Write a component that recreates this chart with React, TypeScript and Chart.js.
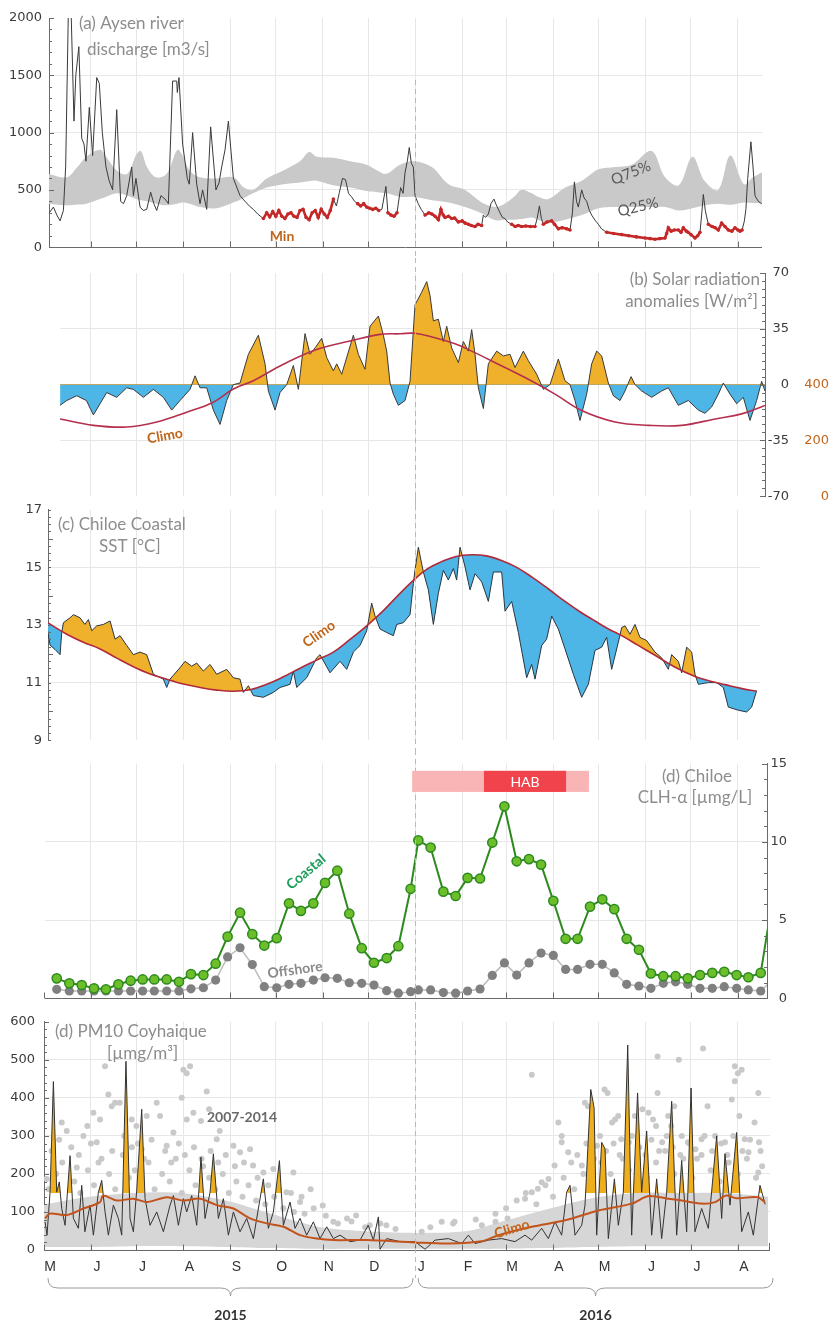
import { useEffect, useRef } from "react";
import { Chart, registerables } from "chart.js";

Chart.register(...registerables);

// ================= DATA (x = days since 1 May 2015) =================
const monthStartDays = [0, 31, 61, 92, 123, 153, 184, 214, 245, 276, 305, 336, 366, 397, 427, 458];
const monthLabels = ["M", "J", "J", "A", "S", "O", "N", "D", "J", "F", "M", "A", "M", "J", "J", "A"];
const yearLabels = ["2015", "2016"];
const yearFromDays = [2.6, 246.9];
const yearToDays = [243.6, 481.2];
const newYearDay = 245;

// (a) Aysen river discharge [m3/s]
const dischargeDays = [3.5,6.2,8.5,10.6,12.8,14.3,16,17.8,19.8,21,23,24.9,26.4,27.7,29.9,32.1,34.8,36.5,38.5,40.9,43,45.3,48,50.6,52.5,54.6,57.9,59,60.7,63.4,65.5,67.8,70.4,72.5,74.4,77.2,79.9,82.1,84.9,87.6,88,89.1,91.5,94.6,95.9,98.1,100.8,103,104.7,107.4,110,113.5,115.5,117.3,119.5,121.7,125,129.4,132.7,135.5,138.2,141,
144.8,147,149,151,153,155,157,159,161,163,165,167,169,171,173,175,177,179,181,183,185,187,189,191,193,195,197,199,201,203,205,207,209,211,213,215,217,219,221,223,225.7,227,229,231,233,235.4,237,238.3,239.8,241.1,242.5,243.8,
244.9,247,249,251.5,254,256,258.1,260.3,262,263.5,264.7,267,269.1,271,273.5,276,278,280.1,282,284.5,286.5,288.9,290,291.5,293.3,295,297,298.5,301,302.5,304.3,306,308.7,311,313,315.3,318,321,324.1,325.5,327,328.3,329.6,332,335.1,337,339.5,342,345,347.2,348.8,350.1,351.5,352.7,354.9,356.5,358.2,360,361.5,364,365.9,368,371.4,376,381.3,386,391,396.7,400,403.3,406.5,409.9,411,412.1,414,416,418.7,420.5,422,424,425.1,427,429.7,431.5,433,434.2,435.2,436.5,438.5,441,443,445.1,447.3,449.5,451.7,454,456.1,458,459.4,460.8,462.3,463.3,464.5,466.6,468,469.3,471.5,473.7,476];
const dischargeVals = [300,350,280,230,320,700,2000,2100,1100,1500,1750,950,900,750,1220,800,1480,1430,1000,700,580,500,1200,400,380,450,700,450,600,350,320,330,480,380,320,450,420,380,1450,1450,1350,1480,900,600,550,1000,550,380,500,330,1050,500,560,700,850,1100,600,450,400,360,330,290,
250,300,265,310,270,320,270,250,290,300,270,260,320,330,260,240,300,320,260,330,290,260,320,420,360,480,600,590,470,440,400,380,360,380,350,340,330,340,320,330,530,300,280,270,300,520,470,650,750,870,730,700,
450,380,330,280,300,290,270,240,330,280,260,270,250,255,220,230,210,200,190,180,200,190,280,260,290,380,420,370,300,260,250,220,200,180,190,180,185,180,180,250,360,250,200,220,230,200,160,170,160,150,300,570,400,350,500,430,400,320,280,230,200,160,130,120,110,100,90,80,75,70,75,80,120,170,140,150,150,130,170,140,130,110,80,100,130,300,460,320,200,180,170,150,210,180,150,140,170,150,140,150,230,330,600,920,700,450,400,380,370];
const minFlowRanges = [[144.8,191],[206,222],[227,234],[251.5,289],[307,324.5],[329,348],[371,410],[411,433.5],[438.5,461]];
const bandDays = [3,15,22,28,37,41,48,55,61,64,68,74,81,88,91,96,103,114,125,132,138,147,158,169,175,180,191,202,213,220,226,235,244,256,267,278,289,298,304,311,315,322,326,333,344,355,366,377,388,401,410,419,428,436,445,453,462,468,476];
const q75Vals = [640,610,700,790,850,790,670,640,810,840,700,610,640,850,810,670,610,600,610,520,500,600,670,750,830,790,780,750,720,670,640,720,750,700,550,500,390,350,380,450,500,470,440,420,520,580,680,700,720,840,610,540,790,580,500,800,550,610,670];
const q25Vals = [380,365,372,380,420,440,470,450,420,410,400,380,365,380,390,380,350,340,390,430,470,520,550,565,575,580,540,520,490,480,470,440,440,410,390,350,295,235,240,240,245,260,240,215,240,280,340,350,350,350,350,320,340,365,380,370,390,385,380];

// (b) Solar radiation anomalies [W/m2] and climatology [W/m2]
const anomDays = [10.6,15,21.6,28,32.6,37,41.4,48,54.6,59,65.6,72.2,78.8,84.3,89.8,96.4,99.7,103,107.4,111.8,116.2,120.6,125,129.4,134.9,141.5,145.9,148.1,152.5,155.8,160.2,164.6,167.9,172.3,175.6,178.9,183.3,186.6,191,193.2,196.5,204.2,207.5,211.9,215.2,220.7,224,226.2,228.4,230.6,233.9,238.3,241.6,244.9,249.3,252.6,254.8,257,260.3,263.6,265.8,269.1,273.5,276.8,280.1,282.3,284.5,286.7,290,293.3,298.8,303.2,307.6,310.9,316.4,319.7,325.2,329.6,334,339.5,343.9,347.2,350.5,353.8,358.2,361.5,364.8,368.1,372.5,375.8,380.2,383.5,387.5,390.1,394.5,401.1,407.7,412.1,418.7,425.3,431.9,436.3,440.7,445.1,448.4,452.8,457.2,461.6,466,470.4,473.7,475.9];
const anomVals = [-13,-10,-7,-10,-19,-12,-5,-8,-2,-3,-8,-3,-8,-16,-10,-3,5.5,-2,-2,-16,-25,-10,0,1,19,31,13,-4,-16,-5,0,12,-3,32,19,23,29,17,8.6,13,6.5,31,19,9.6,36.6,43,31,21,1,-6,-13,-10,2,50,58,64.6,56,40,41,27,36.6,23,13.8,27,21,34.5,19,-2,-15,13,21,18,19,10.7,21,15,6.5,-3,0,16,2.4,0,-10,-22.5,-6,13,21,18,1,-7,-10,-4,5,0,-4,-8,-4,-2,-13,-10,-16,-18,-14,-6,1,-6,-12,-8,-22.5,-10,2,-4];
const solarClimoDays = [10.6,32.6,54.6,74.4,94.2,111.8,125,138.2,158,180,202,221.8,235,244.9,258.1,271.3,282.3,299.9,319.7,337.3,354.9,376.9,398.9,420.9,442.9,460.5,475.9];
const solarClimoVals = [277,254,248,266,301,337,384,414,473,526,556,580,582,584,568,546,520,473,419,366,307,266,254,254,277,295,325];

// (c) Chiloe coastal SST [°C] and climatology
const sstDays = [1.8,4,7.3,10.6,11.7,12.8,17.2,19.4,23.8,27,29.3,31.5,34.8,39.2,43.6,46.9,50.2,54.6,59,63.4,67.8,72.2,78.8,81,83.2,89.8,93.1,97.5,100.8,105.2,109.6,114,120.6,125,129.4,131.6,134.9,138.2,144.8,151.4,155.8,162.4,164.6,166.8,173.4,180,182.2,188.8,195.4,199.8,204.2,208.6,213,216.3,218.5,221.8,226.2,230.6,232.8,237.2,241.6,243.8,
244.9,247.1,250.4,253.7,257,260.3,263.6,266.9,270.2,272.4,274.6,277.9,281.2,284.5,288.9,293.3,296.6,302.1,304.3,308.7,313.1,318.6,321.9,324.1,328.5,331.8,335.1,339.5,343.9,349.4,354.9,359.3,363.7,368.1,371.4,374.7,379.1,381.3,383.5,386.8,390.1,393.4,397.8,403.3,407.7,412.1,414.3,418.7,420.9,424.2,427.5,429.7,431.9,438.5,444,448.4,451.7,458.3,463.8,467.1,470.4];
const sstVals = [13.0,12.3,12.15,11.97,12.74,13.08,13.25,13.36,13.25,13.02,13.19,12.8,12.97,13.02,13.14,12.51,12.63,12.29,11.97,12.06,11.97,11.29,11.12,10.83,11.12,11.52,11.74,11.57,11.68,11.4,11.63,11.29,11.46,11.17,11.12,10.66,10.89,10.55,10.49,10.66,10.83,10.94,11.4,10.83,11.17,11.86,11.97,11.34,11.74,11.46,12.06,12.29,12.8,13.76,13.31,12.86,12.74,12.63,13.02,13.08,13.36,14.44,
14.9,15.7,14.84,14.22,13.02,14.1,14.9,14.56,14.96,14.56,15.7,15.02,14.22,14.78,14.5,13.82,14.84,14.84,13.48,13.82,12.74,11.17,11.63,11.12,12.29,12.51,13.31,12.86,12.17,11.29,10.49,10.94,12.12,12.23,12.57,11.46,12.4,12.91,12.97,12.68,13.02,12.57,12.46,12.06,11.86,11.46,11.97,11.74,11.34,12.23,12.06,11.29,10.94,11.0,11.0,10.83,10.15,10.04,9.98,10.15,10.72];
const sstClimoDays = [1.8,15,26,37,48,59,70,81,92,103,114,125,136,147,158,169,180,191,202,213,224,235,244.9,253,262.5,272,282.3,292,302,312,321.9,333,343.9,354,363.7,372,381.3,392,403.3,416,429.7,440,449.5,460,470.4];
const sstClimoVals = [13.1,12.68,12.4,12.17,11.85,11.55,11.3,11.12,10.95,10.83,10.74,10.7,10.75,10.94,11.2,11.5,11.78,12.06,12.5,12.97,13.5,14.1,14.6,14.95,15.2,15.38,15.44,15.4,15.24,15.0,14.67,14.25,13.82,13.45,13.14,12.88,12.63,12.3,11.95,11.55,11.21,11.05,10.93,10.8,10.7];

// (d) Chiloe chlorophyll [µg/L], 8-day composites
const chlDays = [8.4,16.7,24.9,33,40.9,49.1,57.2,65.1,72.8,81,89.1,97,105.2,113.3,121.2,129.4,137.5,145.4,153.6,161.7,169.6,177.8,185.5,193.6,201.5,209.7,217.8,226.2,233.9,242,247.1,255.2,263.6,271.7,279.6,287.8,295.9,303.9,312,320.1,328.1,336.2,344.3,352.2,360.4,368.5,376.4,384.6,392.7,400.6,408.8,416.9,424.9,433,441.1,449,457.2,464.9,473.1,479];
const coastalChl = [1.27,0.95,0.84,0.63,0.57,0.89,1.12,1.2,1.2,1.2,1.05,1.54,1.48,2.21,3.94,5.47,4.1,3.37,3.84,6.07,5.59,6.07,7.38,8.16,5.41,3.2,2.27,2.57,3.33,7.0,10.1,9.64,6.82,6.54,7.7,7.66,9.96,12.28,8.76,8.9,8.55,6.23,3.8,3.8,5.86,6.33,5.7,3.8,3.1,1.58,1.41,1.41,1.27,1.48,1.62,1.69,1.48,1.34,1.62,5.2];
const offshoreChl = [0.57,0.46,0.46,0.46,0.46,0.46,0.46,0.46,0.46,0.46,0.46,0.6,0.67,1.16,2.64,3.23,2.15,0.74,0.67,0.89,0.95,1.16,1.31,1.27,0.99,0.95,0.84,0.48,0.32,0.42,0.53,0.53,0.36,0.32,0.46,0.59,1.46,2.26,1.48,2.26,2.89,2.74,1.84,1.84,2.17,2.17,1.62,0.89,0.78,0.63,0.95,1.05,0.89,0.63,0.63,0.74,0.63,0.53,0.46,1.0];
const habSeasonDays = [243, 359.7];
const habPeakDays = [290.4, 344.6];
const habBarLevels = [13.2, 14.55];

// (e) PM10 Coyhaique [µg/m3]
const pmDays = [0.7,2,4,6.2,8.4,10.1,11.7,13.9,17.2,19.4,22.7,24.9,27,30.4,32.6,35.9,38.1,40.3,42.5,45.8,49.1,51.3,54.1,56.8,59,61.2,64.5,66.7,70,74.4,78.8,83.2,85.4,88.7,92,94.2,97.5,100.8,103.6,106.3,109.6,111.8,115.1,118.4,121.7,125,129.4,133.8,138.2,144.8,148.1,151.4,155.4,158,162.4,165.7,169,173.4,177.8,182.2,186.6,191,195.4,202,208.6,214,217.4,220.7,221.8,226.2,235,
244.9,251.5,258.1,266.9,275.7,280.1,284.5,293.3,302.1,310.9,317.5,321.9,328.5,332.9,337.3,341.7,345,347.2,350.5,354.9,357.1,360.9,363.1,364.8,368.1,370.3,372.5,376.5,379.1,382.4,385.3,387.9,391.8,394.5,397.8,401.1,404.4,407.7,411,414.3,417.6,420.9,424.2,427.1,429.7,434.1,438.5,444,447.3,449.5,452.8,457.2,460.5,464.9,468.2,472.6,476];
const pmVals = [74,39,152,443,152,179,109,65,248,83,57,170,48,118,39,152,183,100,39,118,83,39,496,83,48,157,370,135,65,100,48,118,143,65,135,100,143,65,244,83,152,253,83,135,39,100,48,83,30,187,57,100,235,65,126,57,83,39,74,30,61,30,39,22,26,65,26,87,2,30,22,
22,2,26,30,17,39,17,26,30,22,39,26,57,30,74,39,152,170,39,65,118,422,374,39,283,266,30,187,65,152,539,39,413,152,313,39,187,30,152,391,39,235,48,426,48,109,57,300,83,253,118,309,48,100,39,170,120];
const pmExceedLevel = 150;
const pmClimoDays = [0.7,4,15,26,37,39,48,59,68,81,92,103,114,125,136,147,158,169,180,191,213,245,267,289,300,322,344,366,388,399,412,421,434,443,450,457,471,476];
const pmClimoVals = [83,96,92,109,126,143,130,135,126,139,130,135,118,109,83,70,61,39,30,26,26,20,17,23,39,61,78,104,122,142,135,130,122,126,143,136,139,125];
const pmCoreDays = [0,30,60,90,120,150,180,210,245,280,300,330,360,390,420,450,478];
const pmCoreLow = [8,8,10,10,8,5,3,3,3,3,3,5,8,10,10,10,10];
const pmCoreHigh = [120,140,150,150,130,95,62,50,45,50,72,105,135,150,150,150,140];
const pmHistDays = [3,8,12,20,24,29,33,38,43,47,52,56,60,64,69,73,78,83,87,91,96,100,105,109,113,118,122,127,131,135,140,146,152,158,165,172,178,186,194,203,212,222,232,255,270,285,298,305,312,318,325,331,336,343,350,356,362,368,374,380,386,392,398,404,410,416,422,428,434,440,446,452,458,464,470,474,
5,10,23,31,36,45,53,58,62,66,71,80,84,89,93,99,104,110,115,120,126,132,141,148,155,163,170,176,
352,358,363,367,371,376,382,388,393,397,401,406,411,415,420,426,431,436,441,447,451,455,461,466,473,
1.8,11.7,15,18,21.6,26,28.6,32.6,34.8,37,40.3,42.5,44.7,46.9,50,57.9,61,64.5,67.8,74.4,76.6,81,85.4,90.9,92,94.2,96.4,94.2,98.6,103.6,107.4,109,114,116,125,129.4,136,138,144.8,151.4,160,164.6,169,184,191,200,206,215,226,249.3,262.5,271,289,298,306,322,317.5,322,326,328.5,333,337,339.5,341.7,341.7,346,348,355,357,359,361,365,370,372,375,377,379,381,386,390,395,399,402,404,405,405,408,412,414,416,419,421,425,430,434,435,438,443,449.5,454,456,458,460.5,456,459,462.5,465,469,471.5,472,471.5];
const pmHistVals = [160,200,230,180,150,210,170,240,200,160,250,190,210,170,230,160,200,180,240,150,210,170,220,190,160,200,150,180,140,170,130,120,140,110,100,95,110,90,70,75,60,70,55,60,70,80,95,110,130,150,120,170,140,190,160,200,180,230,200,250,210,240,190,230,260,200,240,190,250,210,180,230,200,240,190,220,
260,290,250,280,230,260,300,270,280,240,290,260,230,280,250,270,240,260,230,250,220,230,190,170,160,150,140,160,
250,280,240,300,260,280,240,300,270,250,290,260,300,270,250,280,240,300,260,280,250,300,260,290,260,
187,335,313,270,217,300,326,361,283,343,483,409,378,387,387,343,326,265,352,387,352,274,309,400,474,465,483,343,361,339,417,370,291,313,274,257,265,222,204,213,152,204,126,117,74,83,91,65,65,48,74,74,65,74,83,461,135,152,161,178,187,222,335,300,283,257,230,222,387,378,300,274,422,413,335,343,352,291,283,352,370,361,343,326,509,413,283,352,326,378,500,300,283,265,291,530,378,300,283,396,483,465,474,444,352,291,257,335,413,283,204];

// ================= STYLE =================
const W = 830;
const PX_DAY0 = 44;
const PX_PER_DAY = 1.515;
const dayAtPx = (px: number) => (px - PX_DAY0) / PX_PER_DAY;

const GRID = "#e7e7e7";
const NONE = "rgba(0,0,0,0)";
const AXIS = "#6a6a6a";
const TICK_COLOR = "#3c3c3c";
const TITLE_COLOR = "#8d8d8d";
const ORANGE = "#efb12b";
const BLUE = "#4db6e6";
const BROWN = "#c0651a";
const TICK_FONT = { family: "'DejaVu Sans', Arial, sans-serif", size: 13 };
const TXT = "Lato, 'Open Sans', sans-serif";

const pts = (xs: number[], ys: (number | null)[]) => xs.map((x, i) => ({ x, y: ys[i] }));

const common: any = {
  responsive: false,
  animation: false,
  devicePixelRatio: 1,
  events: [],
  plugins: { legend: { display: false }, tooltip: { enabled: false } },
};

function xAxis(leftPx: number, rightPx: number) {
  return {
    type: "linear",
    min: dayAtPx(leftPx),
    max: dayAtPx(rightPx),
    afterBuildTicks: (s: any) => {
      s.ticks = monthStartDays.filter((d) => d > s.min + 0.5 && d < s.max - 0.5).map((value) => ({ value }));
    },
    ticks: { display: false },
    grid: { color: GRID, drawTicks: false, lineWidth: 1 },
    border: { display: false },
  };
}

function yAxis(o: {
  pos: string; min: number; max: number; ticks: number[]; width: number; padding: number;
  align: string; grid: (v: number) => string; color?: string; weight?: number; border?: boolean;
}) {
  return {
    type: "linear",
    position: o.pos,
    min: o.min,
    max: o.max,
    weight: o.weight || 0,
    afterBuildTicks: (s: any) => { s.ticks = o.ticks.map((value) => ({ value })); },
    afterFit: (s: any) => { s.width = o.width; },
    ticks: { font: TICK_FONT, color: o.color || TICK_COLOR, padding: o.padding, crossAlign: o.align, callback: (v: any) => String(v) },
    grid: { drawTicks: false, color: (c: any) => (c.tick ? o.grid(c.tick.value) : NONE) },
    border: { display: o.border !== false, color: AXIS },
  };
}

// ---------- drawing helpers ----------
function seg(ctx: any, x1: number, y1: number, x2: number, y2: number) {
  ctx.beginPath(); ctx.moveTo(x1, y1); ctx.lineTo(x2, y2); ctx.stroke();
}
function label(ctx: any, s: string, x: number, y: number, o: any = {}) {
  ctx.save();
  ctx.translate(x, y);
  if (o.rot) ctx.rotate((o.rot * Math.PI) / 180);
  ctx.font = `${o.weight || "normal"} ${o.size || 17}px ${o.family || TXT}`;
  ctx.fillStyle = o.color || TITLE_COLOR;
  ctx.textAlign = o.align || "left";
  ctx.textBaseline = "middle";
  ctx.fillText(s, 0, 0);
  ctx.restore();
}
function axisTicks(ctx: any, scale: any, x: number, step: number, majorStep: number, minorLen: number, majorLen: number, dir: number) {
  ctx.save(); ctx.strokeStyle = AXIS; ctx.lineWidth = 1;
  const n = Math.round((scale.max - scale.min) / step);
  for (let i = 0; i <= n; i++) {
    const v = scale.min + i * step;
    const y = Math.round(scale.getPixelForValue(v)) + 0.5;
    const major = Math.abs(v / majorStep - Math.round(v / majorStep)) < 1e-6;
    seg(ctx, x, y, x + dir * (major ? majorLen : minorLen), y);
  }
  ctx.restore();
}
function bottomAxis(ctx: any, chart: any, tickLen: number) {
  const { left, right, bottom } = chart.chartArea;
  const xs = chart.scales.x;
  ctx.save(); ctx.strokeStyle = AXIS; ctx.lineWidth = 1;
  const y = Math.round(bottom) + 0.5;
  seg(ctx, left, y, right, y);
  monthStartDays.forEach((d) => {
    const x = Math.round(xs.getPixelForValue(d)) + 0.5;
    if (x >= left - 1 && x <= right + 1) seg(ctx, x, y, x, y - tickLen);
  });
  ctx.restore();
}
function janLine(ctx: any, chart: any, y0: number, y1: number) {
  const x = Math.round(chart.scales.x.getPixelForValue(newYearDay)) + 0.5;
  ctx.save(); ctx.strokeStyle = "#b9b9b9"; ctx.lineWidth = 1; ctx.setLineDash([5, 4]);
  seg(ctx, x, y0, x, y1); ctx.restore();
}

// ================= PANELS =================
function configA() {
  const top = 0;
  const T = (y: number) => y - top;
  const minVals = dischargeDays.map((d, i) => (minFlowRanges.some(([a, b]) => d >= a && d <= b) ? dischargeVals[i] : null));
  return {
    type: "line",
    data: {
      datasets: [
        { data: pts(bandDays, q75Vals), fill: "+1", backgroundColor: "#c9c9c9", borderWidth: 0, pointRadius: 0, tension: 0.35, order: 10 },
        { data: pts(bandDays, q25Vals), fill: false, borderWidth: 0, pointRadius: 0, tension: 0.35, order: 11 },
        { data: pts(dischargeDays, dischargeVals), borderColor: "#3a3a3a", borderWidth: 1, pointRadius: 0, fill: false, order: 2 },
        { data: pts(dischargeDays, minVals), borderColor: "#c42828", borderWidth: 2.6, pointRadius: 1.8, pointBackgroundColor: "#c42828", pointBorderWidth: 0, fill: false, order: 1 },
      ],
    },
    options: {
      ...common,
      layout: { padding: { left: 0, right: W - 762, top: 18, bottom: 11 } },
      scales: {
        x: xAxis(49, 762),
        y: yAxis({ pos: "left", min: 0, max: 2000, ticks: [0, 500, 1000, 1500, 2000], width: 49, padding: 7, align: "near", grid: (v) => (v > 0 && v < 2000 ? GRID : NONE) }),
      },
    },
    plugins: [{
      id: "pa",
      afterDraw(chart: any) {
        const ctx = chart.ctx;
        axisTicks(ctx, chart.scales.y, 49, 100, 500, 3, 5, 1);
        bottomAxis(ctx, chart, 6);
        janLine(ctx, chart, T(80), chart.height);
        label(ctx, "(a) Aysen river", 79, T(24));
        label(ctx, "discharge [m3/s]", 87, T(50));
        label(ctx, "Min", 282, T(236), { size: 14, weight: "bold", color: BROWN, align: "center" });
        label(ctx, "Q75%", 631, T(173), { size: 15, color: "#5a5a5a", align: "center", rot: -22 });
        label(ctx, "Q25%", 638, T(207), { size: 15, color: "#5a5a5a", align: "center", rot: -13 });
      },
    }],
  };
}

function configB() {
  const top = 258;
  const T = (y: number) => y - top;
  return {
    type: "line",
    data: {
      datasets: [
        { data: pts(anomDays, anomVals), yAxisID: "y", borderColor: "#3a3a3a", borderWidth: 1, pointRadius: 0, fill: { target: { value: 0 }, above: ORANGE, below: BLUE }, order: 2 },
        { data: pts(solarClimoDays, solarClimoVals), yAxisID: "y2", borderColor: "#b5304f", borderWidth: 1.6, pointRadius: 0, tension: 0.4, fill: false, order: 1 },
      ],
    },
    options: {
      ...common,
      layout: { padding: { left: 60, right: 1, top: 15, bottom: 12 } },
      scales: {
        x: xAxis(60, 765),
        y: yAxis({ pos: "right", min: -70, max: 70, ticks: [-70, -35, 0, 35, 70], width: 24, padding: 6, align: "far", weight: 0,
          grid: (v) => (v === 0 ? "#e59a3c" : Math.abs(v) === 35 ? GRID : NONE) }),
        y2: yAxis({ pos: "right", min: 0, max: 800, ticks: [0, 200, 400], width: 40, padding: 0, align: "far", weight: 1, color: BROWN, border: false, grid: () => NONE }),
      },
    },
    plugins: [{
      id: "pb",
      afterDraw(chart: any) {
        const ctx = chart.ctx;
        const r = chart.chartArea.right;
        axisTicks(ctx, chart.scales.y, r, 5, 35, 3, 5, -1);
        janLine(ctx, chart, 0, chart.height);
        label(ctx, "(b) Solar radiation", 760, T(280), { align: "right" });
        label(ctx, "anomalies [W/m²]", 758, T(302), { align: "right" });
        label(ctx, "Climo", 165, T(436), { size: 14, weight: "bold", color: BROWN, align: "center", rot: -10 });
      },
    }],
  };
}

function configC() {
  const top = 496;
  const T = (y: number) => y - top;
  return {
    type: "line",
    data: {
      datasets: [
        { data: pts(sstClimoDays, sstClimoVals), borderColor: "#b02a3c", borderWidth: 1.6, pointRadius: 0, tension: 0.4, fill: false, order: 1 },
        { data: pts(sstDays, sstVals), borderColor: "#2b3540", borderWidth: 1, pointRadius: 0, fill: { target: "-1", above: ORANGE, below: BLUE }, order: 2 },
      ],
    },
    options: {
      ...common,
      layout: { padding: { left: 0, right: W - 760, top: 12, bottom: 11 } },
      scales: {
        x: xAxis(48, 760),
        y: yAxis({ pos: "left", min: 9, max: 17, ticks: [9, 11, 13, 15, 17], width: 48, padding: 6, align: "near", grid: (v) => (v > 9 && v < 17 ? GRID : NONE) }),
      },
    },
    plugins: [{
      id: "pc",
      afterDraw(chart: any) {
        const ctx = chart.ctx;
        axisTicks(ctx, chart.scales.y, 48, 0.25, 2, 3, 5, 1);
        janLine(ctx, chart, 0, chart.height);
        label(ctx, "(c) Chiloe Coastal", 58, T(525));
        label(ctx, "SST [°C]", 99, T(547));
        label(ctx, "Climo", 319, T(634), { size: 14, weight: "bold", color: BROWN, align: "center", rot: -35 });
      },
    }],
  };
}

function configD() {
  const top = 750;
  const T = (y: number) => y - top;
  return {
    type: "line",
    data: {
      datasets: [
        { data: pts(chlDays, coastalChl), borderColor: "#2e8a1e", borderWidth: 2, fill: false, order: 1,
          pointRadius: (c: any) => (c.parsed && c.parsed.x > c.chart.scales.x.max ? 0 : 4.6),
          pointBackgroundColor: "#6cbf2a", pointBorderColor: "#2e8a1e", pointBorderWidth: 1.5 },
        { data: pts(chlDays, offshoreChl), borderColor: "#bcbcbc", borderWidth: 1.5, fill: false, order: 2,
          pointRadius: (c: any) => (c.parsed && c.parsed.x > c.chart.scales.x.max ? 0 : 4.6),
          pointBackgroundColor: "#808080", pointBorderColor: "#808080", pointBorderWidth: 0 },
      ],
    },
    options: {
      ...common,
      layout: { padding: { left: 45, right: 43, top: 13, bottom: 12 } },
      scales: {
        x: xAxis(45, 767),
        y: yAxis({ pos: "right", min: 0, max: 15, ticks: [0, 5, 10, 15], width: 20, padding: 6, align: "far", grid: (v) => (v > 0 && v < 15 ? GRID : NONE) }),
      },
    },
    plugins: [{
      id: "pd",
      afterDraw(chart: any) {
        const ctx = chart.ctx;
        const xs = chart.scales.x, ys = chart.scales.y;
        axisTicks(ctx, ys, chart.chartArea.right, 1, 5, 3, 5, -1);
        bottomAxis(ctx, chart, 6);
        janLine(ctx, chart, 0, chart.height);
        const yTop = ys.getPixelForValue(habBarLevels[1]);
        const yBot = ys.getPixelForValue(habBarLevels[0]);
        const a0 = xs.getPixelForValue(habSeasonDays[0]), a1 = xs.getPixelForValue(habSeasonDays[1]);
        const b0 = xs.getPixelForValue(habPeakDays[0]), b1 = xs.getPixelForValue(habPeakDays[1]);
        ctx.save();
        ctx.fillStyle = "#f9b4b6"; ctx.fillRect(a0, yTop, a1 - a0, yBot - yTop);
        ctx.fillStyle = "#f0434b"; ctx.fillRect(b0, yTop, b1 - b0, yBot - yTop);
        ctx.restore();
        label(ctx, "HAB", (b0 + b1) / 2, (yTop + yBot) / 2 + 1, { size: 14, color: "#ffffff", align: "center" });
        label(ctx, "(d) Chiloe", 697, T(777), { align: "center" });
        label(ctx, "CLH-α [µmg/L]", 695, T(798), { align: "center" });
        label(ctx, "Coastal", 306, T(872), { size: 14, weight: "bold", color: "#1c9e5a", align: "center", rot: -40 });
        label(ctx, "Offshore", 295, T(970), { size: 14, weight: "bold", color: "#8a8a8a", align: "center", rot: -8 });
      },
    }],
  };
}

function configE() {
  const top = 1005;
  const T = (y: number) => y - top;
  return {
    type: "line",
    data: {
      datasets: [
        { data: pts(pmCoreDays, pmCoreHigh), fill: "+1", backgroundColor: "#d6d6d6", borderWidth: 0, pointRadius: 0, tension: 0.3, order: 20 },
        { data: pts(pmCoreDays, pmCoreLow), fill: false, borderWidth: 0, pointRadius: 0, tension: 0.3, order: 21 },
        { data: pts(pmHistDays, pmHistVals), showLine: false, fill: false, pointRadius: 3, pointBackgroundColor: "#c9c9c9", pointBorderWidth: 0, order: 15 },
        { data: pts(pmDays, pmVals), borderColor: "#333333", borderWidth: 1, pointRadius: 0, fill: { target: { value: pmExceedLevel }, above: "#efae1c", below: NONE }, order: 2 },
        { data: pts(pmClimoDays, pmClimoVals), borderColor: "#c2531c", borderWidth: 2, pointRadius: 0, tension: 0.3, fill: false, order: 1 },
      ],
    },
    options: {
      ...common,
      layout: { padding: { left: 0, right: W - 770, top: 15, bottom: 72 } },
      scales: {
        x: xAxis(44, 770),
        y: yAxis({ pos: "left", min: 0, max: 600, ticks: [0, 100, 200, 300, 400, 500, 600], width: 44, padding: 9, align: "near", grid: (v) => (v > 0 && v < 600 ? GRID : NONE) }),
      },
    },
    plugins: [{
      id: "pe",
      afterDraw(chart: any) {
        const ctx = chart.ctx;
        const xs = chart.scales.x;
        const { right, bottom } = chart.chartArea;
        axisTicks(ctx, chart.scales.y, 44, 20, 100, 3, 5, 1);
        bottomAxis(ctx, chart, 6);
        ctx.save(); ctx.strokeStyle = AXIS; ctx.lineWidth = 1;
        seg(ctx, right - 0.5, bottom, right - 0.5, bottom - 7);
        ctx.restore();
        janLine(ctx, chart, 0, T(1278));
        monthStartDays.forEach((d, i) => {
          label(ctx, monthLabels[i], xs.getPixelForValue(d) + 6, T(1267), { size: 14, color: "#333", align: "center", family: "'Liberation Sans', Arial, sans-serif" });
        });
        ctx.save(); ctx.strokeStyle = "#9a9a9a"; ctx.lineWidth = 1;
        yearLabels.forEach((yl, i) => {
          const x0 = xs.getPixelForValue(yearFromDays[i]);
          const x1 = xs.getPixelForValue(yearToDays[i]);
          const xm = (x0 + x1) / 2;
          const yE = T(1278), yM = T(1288), yT = T(1296);
          ctx.beginPath();
          ctx.moveTo(x0, yE);
          ctx.quadraticCurveTo(x0, yM, x0 + 10, yM);
          ctx.lineTo(xm - 10, yM);
          ctx.quadraticCurveTo(xm, yM, xm, yT);
          ctx.quadraticCurveTo(xm, yM, xm + 10, yM);
          ctx.lineTo(x1 - 10, yM);
          ctx.quadraticCurveTo(x1, yM, x1, yE);
          ctx.stroke();
          label(ctx, yl, xm, T(1315), { size: 14, weight: "bold", color: "#333", align: "center" });
        });
        ctx.restore();
        label(ctx, "(d) PM10 Coyhaique", 55, T(1032));
        label(ctx, "[µmg/m³]", 107, T(1054));
        label(ctx, "2007-2014", 242, T(1117), { size: 14, weight: "bold", color: "#6a6a6a", align: "center" });
        label(ctx, "Climo", 512, T(1229), { size: 14, weight: "bold", color: BROWN, align: "center", rot: -17 });
      },
    }],
  };
}

function ChartPanel({ top, height, make }: { top: number; height: number; make: () => any }) {
  const ref = useRef<HTMLCanvasElement | null>(null);
  useEffect(() => {
    if (!ref.current) return;
    const chart = new Chart(ref.current, make());
    return () => chart.destroy();
  }, []);
  return (
    <canvas
      ref={ref}
      width={W}
      height={height}
      style={{ position: "absolute", left: 0, top, width: W, height, display: "block" }}
    />
  );
}

export default function App() {
  return (
    <div style={{ position: "absolute", left: 0, top: 0, width: W, height: 1322, background: "#ffffff", overflow: "hidden" }}>
      <ChartPanel top={0} height={262} make={configA} />
      <ChartPanel top={258} height={252} make={configB} />
      <ChartPanel top={496} height={258} make={configC} />
      <ChartPanel top={750} height={262} make={configD} />
      <ChartPanel top={1005} height={317} make={configE} />
    </div>
  );
}
